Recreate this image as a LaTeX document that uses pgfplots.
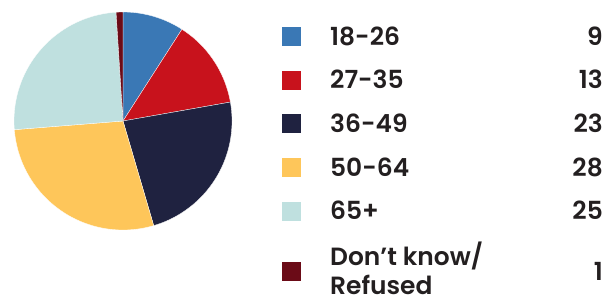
\documentclass[border=0pt]{standalone}
\usepackage{fontspec}
\setmainfont{Poppins SemiBold}
\usepackage{pgfplots}
\pgfplotsset{compat=1.18}
\definecolor{cA}{HTML}{3A78B5}
\definecolor{cB}{HTML}{C8121C}
\definecolor{cC}{HTML}{1F2240}
\definecolor{cD}{HTML}{FEC65A}
\definecolor{cE}{HTML}{BFE0DF}
\definecolor{cF}{HTML}{6B0B17}
\definecolor{txt}{HTML}{231F20}
\begin{document}
\begin{tikzpicture}[x=1bp,y=-1bp]
\useasboundingbox (0,0) rectangle (607,296);
% values: 9,13,23,28,25,1 (total 99), clockwise from top
\begin{axis}[at={(123bp,-121bp)},anchor=center,scale only axis,width=218bp,height=218bp,
  xmin=-1,xmax=1,ymin=-1,ymax=1,hide axis,clip=false]
\def\tot{99}
\foreach \a/\b/\c in {0/9/cA,9/22/cB,22/45/cC,45/73/cD,73/98/cE,98/99/cF}{
  \edef\temp{\noexpand\addplot[fill=\c,draw=white,line width=0.3pt,domain={90-\a*360/\tot}:{90-\b*360/\tot},samples=60,smooth]
    ({cos(x)},{sin(x)}) -- (0,0) -- cycle;}
  \temp
}
\end{axis}
\tikzset{lab/.style={anchor=base west,inner sep=0pt,text=txt,font=\fontsize{25}{32}\selectfont},
         val/.style={anchor=base east,inner sep=0pt,text=txt,font=\fontsize{25}{32}\selectfont}}
\foreach \y/\c/\l/\v in {45/cA/18-26/9,88.7/cB/27-35/13,132.4/cC/36-49/23,176.1/cD/50-64/28,219.8/cE/65+/25}{
  \fill[\c] (282,\y+1) rectangle (301,\y-18);
  \node[lab] at (330,\y) {\l};
  \node[val] at (603,\y) {\v};
}
\fill[cF] (282,281) rectangle (301,262);
\node[lab] at (330,265) {Don’t know/};
\node[lab] at (330,294) {Refused};
\node[val] at (603,280) {1};
\end{tikzpicture}
\end{document}
